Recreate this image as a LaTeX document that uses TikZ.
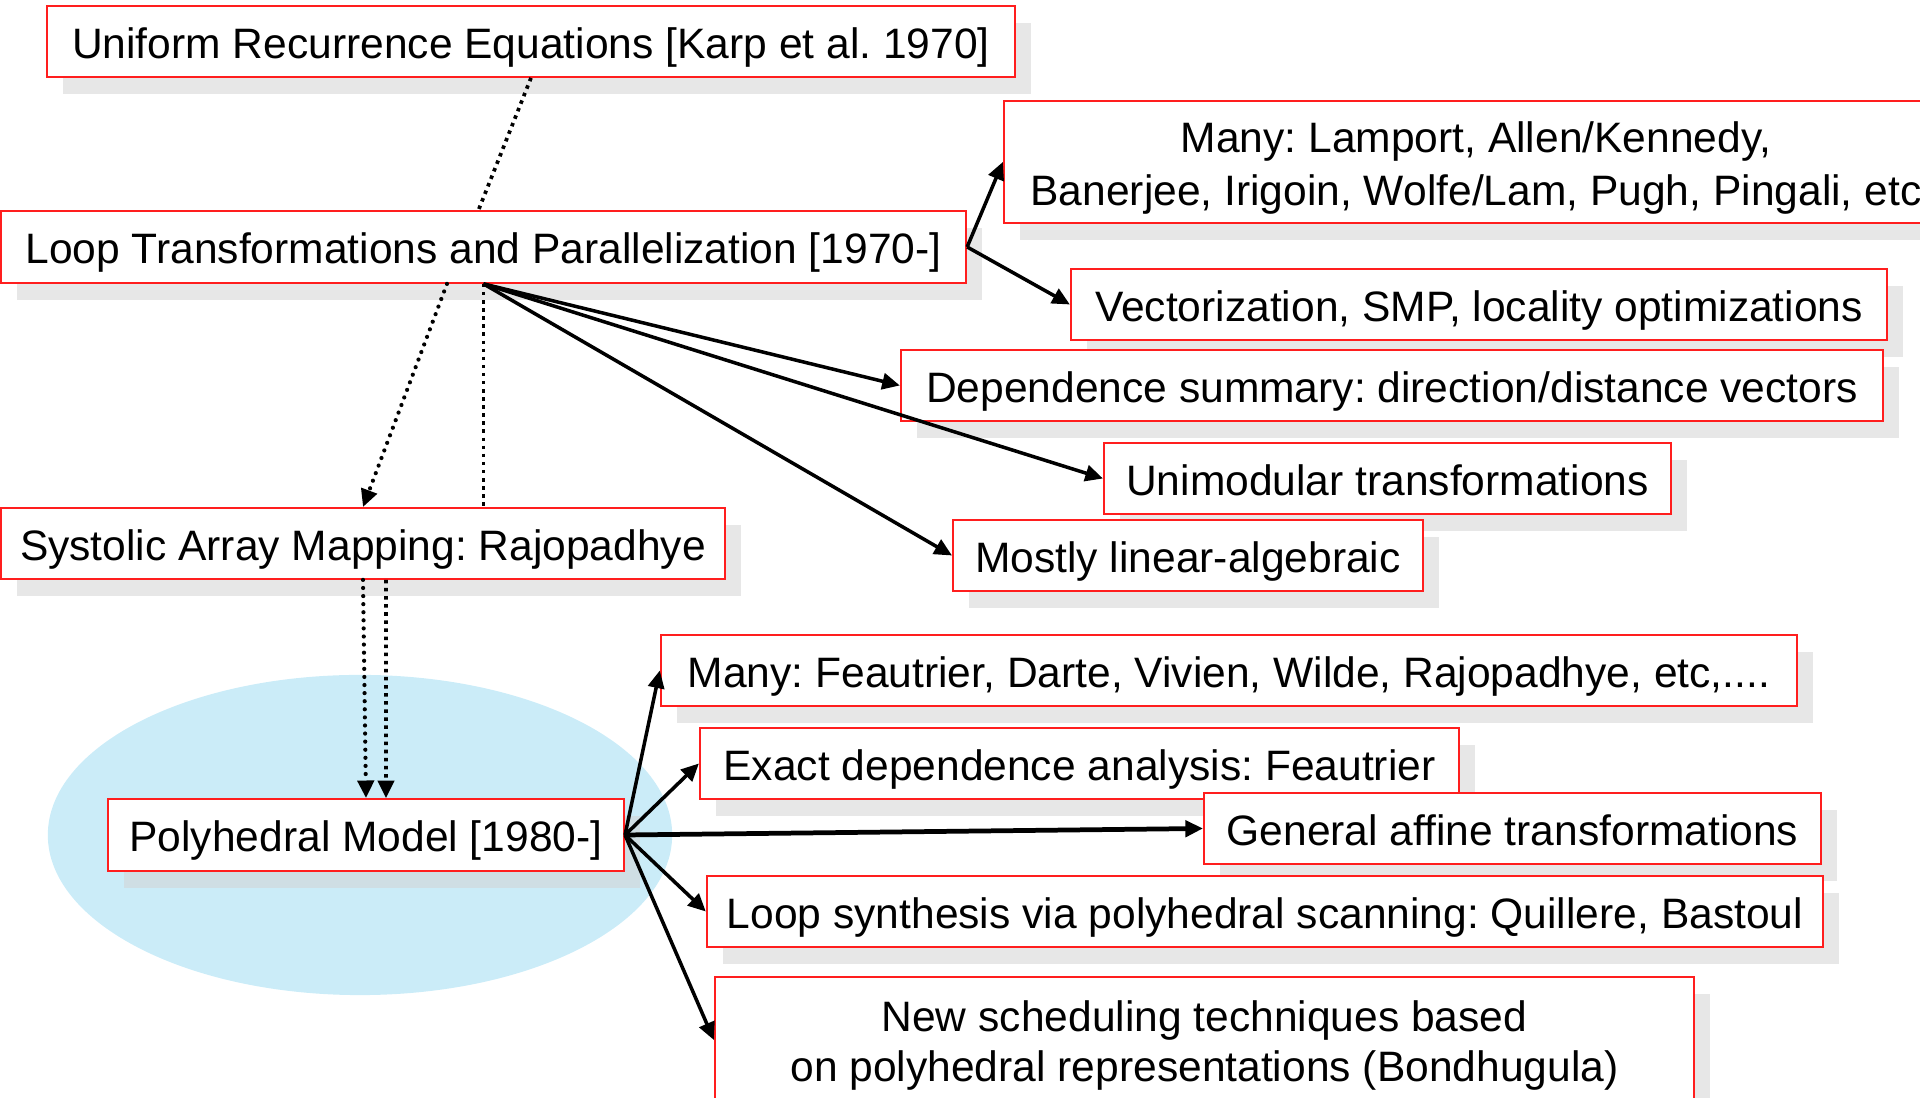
\documentclass[tikz,border=0pt]{standalone}
\usepackage{fontspec}
\setmainfont{Liberation Sans}
\usetikzlibrary{arrows.meta,shadows}

\definecolor{polyblue}{RGB}{203,236,248}
\definecolor{boxred}{RGB}{255,30,30}
\definecolor{shadowgray}{RGB}{212,212,212}

\begin{document}
\frenchspacing
\begin{tikzpicture}[x=0.01cm,y=-0.01cm,
  box/.style={draw=boxred, line width=0.5pt, fill=white, inner sep=0pt,
    align=center, font=\fontsize{12.1}{15}\selectfont,
    drop shadow={shadow xshift=0.16cm, shadow yshift=-0.17cm,
      fill=shadowgray, opacity=0.55}},
  oneline/.style={box, text height=11.8pt, text depth=2.4pt},
  tip/.style={-{Triangle[length=5pt,width=4.6pt]}},
  arr/.style={tip, line width=1pt},
  boldarr/.style={tip, line width=1.35pt},
  rddots/.style={line width=1.2pt, line cap=round, dash pattern=on 0pt off 2.3pt},
  sqdots/.style={line width=1.05pt, dash pattern=on 1pt off 1.3pt}]

\useasboundingbox (0,0) rectangle (1920,1098);
\clip (0,0) rectangle (1920,1098);

% polyhedral region
\fill[polyblue] (360,835) ellipse [x radius=3.12cm, y radius=1.6cm];

% boxes
\node[oneline, minimum width=9.68cm, minimum height=0.71cm] (ure) at (531,41.5)
  {Uniform Recurrence Equations [Karp et al. 1970]};
\node[oneline, minimum width=9.65cm, minimum height=0.72cm] (loop) at (483.5,247)
  {Loop Transformations and Parallelization [1970-]};
\node[box, minimum width=9.44cm, minimum height=1.22cm] (many1) at (1476,162)
  {\rule{0pt}{12.3pt}Many: Lamport, Allen/Kennedy,\\Banerjee, Irigoin, Wolfe/Lam, Pugh, Pingali, etc};
\node[oneline, minimum width=8.16cm, minimum height=0.71cm] (vect) at (1479,304.5)
  {Vectorization, SMP, locality optimizations};
\node[oneline, minimum width=9.82cm, minimum height=0.71cm] (dep) at (1392,385.5)
  {Dependence summary: direction/distance vectors};
\node[oneline, minimum width=5.67cm, minimum height=0.71cm] (unimod) at (1387.5,478.5)
  {Unimodular transformations};
\node[oneline, minimum width=4.70cm, minimum height=0.71cm] (mostly) at (1188,555.5)
  {Mostly linear-algebraic};
\node[oneline, minimum width=7.24cm, minimum height=0.71cm] (sys) at (363,543.5)
  {Systolic Array Mapping: Rajopadhye};
\node[oneline, minimum width=5.16cm, minimum height=0.72cm] (poly) at (366,835)
  {Polyhedral Model [1980-]};
\node[oneline, minimum width=11.36cm, minimum height=0.71cm] (many2) at (1229,670.5)
  {Many: Feautrier, Darte, Vivien, Wilde, Rajopadhye, etc,....};
\node[oneline, minimum width=7.59cm, minimum height=0.71cm] (exact) at (1079.5,763.5)
  {Exact dependence analysis: Feautrier};
\node[oneline, minimum width=6.17cm, minimum height=0.71cm] (general) at (1512.5,828.5)
  {General affine transformations};
\node[oneline, minimum width=11.16cm, minimum height=0.71cm] (synth) at (1265,911.5)
  {Loop synthesis via polyhedral scanning: Quillere, Bastoul};
\node[box, font=\fontsize{12.1}{14.3}\selectfont, minimum width=9.79cm, minimum height=1.26cm] (sched) at (1204.5,1040)
  {\rule{0pt}{11.8pt}New scheduling techniques based\\on polyhedral representations (Bondhugula)};

% historical lineage (dotted)
\draw[sqdots] (ure.south) -- ([xshift=-0.05cm]loop.north);
\draw[rddots, tip] ([xshift=-0.365cm]loop.south) -- (sys.north);
\draw[sqdots] (loop.south) -- (loop.south |- sys.north);
\draw[rddots, tip] (sys.south) -- (poly.north);
\draw[sqdots, tip] ([xshift=0.23cm]sys.south) -- ([xshift=0.2cm]poly.north);

% loop transformation results
\draw[arr] (loop.east) -- (many1.west);
\draw[arr] (loop.east) -- (vect.west);
\draw[arr] (loop.south) -- (dep.west);
\draw[arr] (loop.south) -- (unimod.west);
\draw[arr] (loop.south) -- (mostly.west);

% polyhedral model results
\draw[arr] (poly.east) -- (many2.west);
\draw[arr] (poly.east) -- (exact.west);
\draw[boldarr] (poly.east) -- (general.west);
\draw[arr] (poly.east) -- (synth.west);
\draw[arr] (poly.east) -- (sched.west);
\end{tikzpicture}
\end{document}
